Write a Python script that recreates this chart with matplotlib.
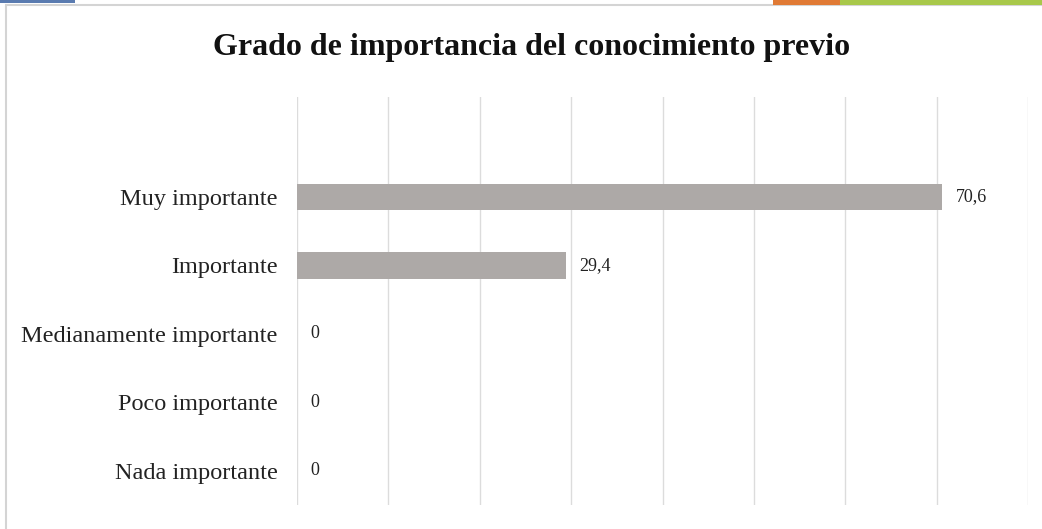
import numpy as np
import matplotlib.pyplot as plt
from matplotlib.patches import Rectangle

categorias = ["Muy importante", "Importante", "Medianamente importante",
              "Poco importante", "Nada importante"]
valores = [70.6, 29.4, 0, 0, 0]
etiquetas = ["70,6", "29,4", "0", "0", "0"]
titulo = "Grado de importancia del conocimiento previo"

plt.rcParams['font.family'] = ['Liberation Serif', 'DejaVu Serif']

fig = plt.figure(figsize=(10.42, 5.29), dpi=100)
fig.patch.set_facecolor('white')

# marco del grafico y restos de la captura
fig.patches.append(Rectangle((6 / 1042, -0.01), 1.1, 1 - 5 / 529 + 0.01,
                             transform=fig.transFigure, fill=False,
                             edgecolor='#d4d4d4', linewidth=1.5))
fig.patches.append(Rectangle((0, 1 - 3 / 529), 75 / 1042, 3 / 529,
                             transform=fig.transFigure, color='#5a7bb0', lw=0))
fig.patches.append(Rectangle((773 / 1042, 1 - 5 / 529), 67 / 1042, 5 / 529,
                             transform=fig.transFigure, color='#e07a35', lw=0))
fig.patches.append(Rectangle((840 / 1042, 1 - 5 / 529), 202 / 1042, 5 / 529,
                             transform=fig.transFigure, color='#a8c84a', lw=0))

ax = fig.add_axes([297 / 1042, 1 - 505 / 529, 731 / 1042, 408 / 529])
y = np.arange(len(categorias))[::-1]
ax.barh(y, valores, height=0.39, color='#ada9a7')
for yi, v, t in zip(y, valores, etiquetas):
    ax.text(v + 1.5, yi, t, va='center', ha='left', fontsize=13, color='#222222')

ax.set_xlim(0, 80)
ax.set_ylim(-0.5, 5.46)
ax.set_xticks(np.arange(0, 81, 10))
ax.set_xticklabels([])
ax.set_yticks(y)
ax.set_yticklabels(categorias, fontsize=17.5, color='#222222')
ax.tick_params(axis='both', length=0)
ax.tick_params(axis='y', pad=14)
ax.grid(axis='x', color='#dcdcdc', linewidth=1)
ax.set_axisbelow(True)
for s in ax.spines.values():
    s.set_visible(False)

fig.text(532 / 1042, 1 - 47 / 529, titulo, ha='center', va='center',
         fontsize=23, fontweight='bold', color='#111111')

fig.savefig('out.png', dpi=100)
